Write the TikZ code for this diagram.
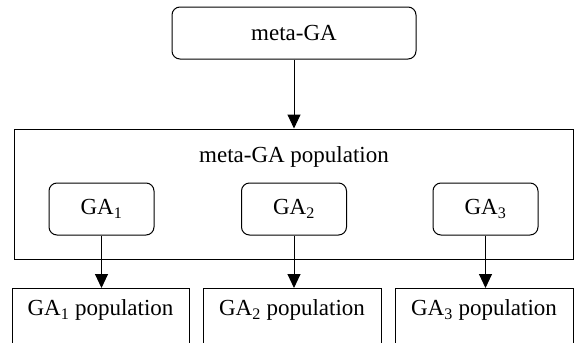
\documentclass[tikz,border=0pt]{standalone}
\usepackage{fontspec}
\setmainfont{Liberation Serif}
\usetikzlibrary{arrows.meta}
\begin{document}
\begin{tikzpicture}[x=1pt,y=-1pt,line width=1pt,
  font=\fontsize{23}{27}\selectfont,
  rbox/.style={draw,rounded corners=8pt,minimum width=105pt,minimum height=52pt,inner sep=0pt},
  sbox/.style={draw,inner sep=0pt},
  lbl/.style={inner sep=0pt},
  arr/.style={-{Triangle[length=14pt,width=13pt]}}]
\useasboundingbox (0,0) rectangle (574,343);
\clip (0,0) rectangle (574,343);
\node[rbox,minimum width=244pt] (meta) at (294,33) {meta-GA};
\node[sbox,minimum width=559pt,minimum height=130pt] (pop) at (293.5,194) {};
\node[lbl] (poptext) at (294,157) {meta-GA population};
\node[rbox] (ga1) at (101.5,209) {GA\textsubscript{1}};
\node[rbox] (ga2) at (294,209) {GA\textsubscript{2}};
\node[rbox] (ga3) at (485.5,209) {GA\textsubscript{3}};
\node[sbox,minimum width=177pt,minimum height=80pt,anchor=north] (p1) at (100.5,288) {};
\node[sbox,minimum width=178pt,minimum height=80pt,anchor=north] (p2) at (292,288) {};
\node[sbox,minimum width=178pt,minimum height=80pt,anchor=north] (p3) at (484,288) {};
\node[lbl] (p1t) at (100.5,310) {GA\textsubscript{1} population};
\node[lbl] (p2t) at (292,310) {GA\textsubscript{2} population};
\node[lbl] (p3t) at (484,310) {GA\textsubscript{3} population};
\draw[arr] (meta.south) -- (meta.south |- pop.north);
\draw[arr] (ga1.south) -- (ga1.south |- p1.north);
\draw[arr] (ga2.south) -- (ga2.south |- p2.north);
\draw[arr] (ga3.south) -- (ga3.south |- p3.north);
\end{tikzpicture}
\end{document}
